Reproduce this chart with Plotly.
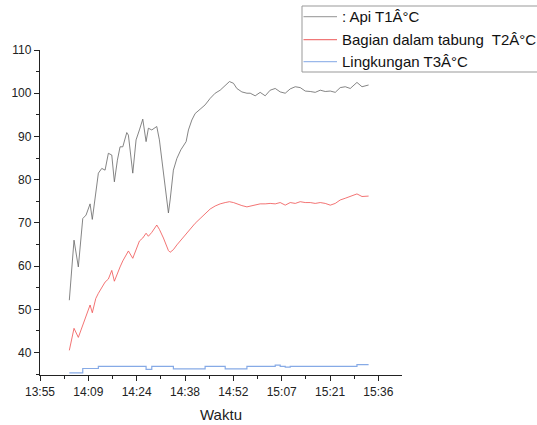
import plotly.graph_objects as go

DAY = "2024-01-01 "

times = ["14:03:56", "14:05:20", "14:06:37", "14:07:56", "14:08:55", "14:10:07", "14:10:47",
         "14:11:49", "14:12:35", "14:13:36", "14:14:35", "14:15:34", "14:16:35", "14:17:21",
         "14:18:15", "14:19:03", "14:19:52", "14:21:03", "14:21:32", "14:22:50", "14:23:49",
         "14:24:49", "14:25:49", "14:26:48", "14:27:29", "14:28:30", "14:29:59", "14:30:46",
         "14:31:58", "14:32:46", "14:33:27", "14:33:58", "14:34:56", "14:35:58", "14:37:09",
         "14:38:44", "14:39:25", "14:40:26", "14:41:25", "14:42:54", "14:44:23", "14:45:53",
         "14:47:22", "14:48:52", "14:50:22", "14:51:38", "14:52:50", "14:53:50", "14:55:20",
         "14:56:50", "14:57:49", "14:59:18", "15:00:47", "15:02:17", "15:03:46", "15:05:16",
         "15:06:45", "15:08:15", "15:09:44", "15:11:14", "15:12:43", "15:14:13", "15:15:42",
         "15:17:11", "15:18:41", "15:20:10", "15:21:40", "15:23:09", "15:24:38", "15:26:08",
         "15:27:37", "15:29:37", "15:31:07", "15:33:05"]

t1_api = [52.1, 66.0, 59.8, 71.0, 71.8, 74.4, 70.8, 77.6, 81.5, 82.6, 82.2, 86.1, 85.7, 79.5,
          84.5, 87.6, 87.6, 90.9, 90.3, 81.5, 89.2, 91.5, 94.0, 88.8, 91.9, 91.5, 92.3, 89.2,
          82.2, 77.6, 72.3, 75.3, 82.2, 84.9, 86.9, 88.8, 91.5, 93.8, 95.3, 96.3, 97.3, 98.8,
          100.0, 100.7, 101.9, 102.7, 102.3, 101.1, 100.3, 100.0,
          100.0, 99.4, 100.2, 99.4, 100.7, 101.1, 100.3, 100.0, 101.0, 101.5, 101.3, 100.5,
          100.4, 100.2, 100.7, 100.4, 100.5, 100.2, 101.3, 101.5, 101.1, 102.5, 101.5, 101.9]

t2_tabung = [40.5, 45.6, 43.5, 46.5, 48.5, 51.0, 49.2, 52.5, 53.7, 55.0, 56.3, 57.0, 59.0, 56.5,
             58.5, 59.8, 61.2, 63.0, 63.5, 61.8, 63.8, 65.8, 66.5, 67.6, 66.9, 67.8, 69.5, 68.5,
             66.5, 65.0, 63.6, 63.2, 63.8, 64.9, 66.0, 67.4, 68.2, 69.0, 69.9, 71.0, 72.2, 73.2,
             73.9, 74.4, 74.7, 74.9, 74.7, 74.4, 74.0, 73.7,
             73.9, 74.1, 74.4, 74.4, 74.5, 74.4, 74.7, 74.1, 74.7, 74.5, 74.9, 74.7,
             74.7, 74.5, 74.7, 74.5, 74.1, 74.5, 75.3, 75.7, 76.1, 76.7, 76.1, 76.2]

t3_lingkungan = [35.3, 35.3, 35.3, 36.3, 36.3, 36.3, 36.3, 36.3, 36.8, 36.8, 36.8, 36.8, 36.8, 36.8,
                 36.8, 36.8, 36.8, 36.8, 36.8, 36.8, 36.8, 36.8, 36.8, 36.1, 36.1, 36.8, 36.8, 36.8,
                 36.8, 36.8, 36.8, 36.8, 36.2, 36.2, 36.2, 36.2, 36.2, 36.2, 36.2, 36.2, 36.8, 36.8,
                 36.8, 36.8, 36.2, 36.2, 36.2, 36.2, 36.2, 36.8,
                 36.8, 36.8, 36.8, 36.8, 36.8, 37.1, 36.8, 36.6, 36.8, 36.8, 36.8, 36.8,
                 36.8, 36.8, 36.8, 36.8, 36.8, 36.8, 36.8, 36.8, 36.8, 37.2, 37.2, 37.2]

names = [": Api T1Â°C", "Bagian dalam tabung\u00a0 T2Â°C", "Lingkungan T3Â°C"]
colors = ["#666666", "#f05050", "#86aae6"]
key_colors = ["#a8a8a8", "#f07878", "#9ab8ea"]

tick_times = ["13:55:12", "14:09:36", "14:24:00", "14:38:24", "14:52:48", "15:07:12", "15:21:36", "15:36:00"]
tick_labels = ["13:55", "14:09", "14:24", "14:38", "14:52", "15:07", "15:21", "15:36"]
y_ticks = [40, 50, 60, 70, 80, 90, 100, 110]

x = [DAY + t for t in times]

fig = go.Figure()
fig.add_trace(go.Scatter(x=x, y=t1_api, mode="lines", name=names[0],
                         line=dict(color=colors[0], width=0.8)))
fig.add_trace(go.Scatter(x=x, y=t2_tabung, mode="lines", name=names[1],
                         line=dict(color=colors[1], width=0.8)))
fig.add_trace(go.Scatter(x=x, y=t3_lingkungan, mode="lines", name=names[2],
                         line=dict(color=colors[2], width=1.2, shape="hv")))

font = "Liberation Sans, Arial, sans-serif"

# legend drawn as a boxed key in paper coordinates
W, H = 537, 425
L, R, T, B = 40, 135, 50, 50
pw, ph = W - L - R, H - T - B
def px(xp): return (xp - L) / pw
def py(yp): return (H - B - yp) / ph

shapes = [dict(type="rect", xref="paper", yref="paper", x0=px(302), x1=px(545),
               y0=py(72), y1=py(6), line=dict(color="#999", width=1), fillcolor="white",
               layer="above")]
annotations = []
rows = [16.7, 39.7, 61.7]
for i, (nm, c) in enumerate(zip(names, key_colors)):
    shapes.append(dict(type="line", xref="paper", yref="paper", x0=px(303.5), x1=px(337),
                       y0=py(rows[i]), y1=py(rows[i]), line=dict(color=c, width=1.3), layer="above"))
    annotations.append(dict(text=nm, xref="paper", yref="paper", x=px(340), y=py(rows[i]),
                            xanchor="left", yanchor="middle", showarrow=False,
                            font=dict(size=15, family=font, color="#111")))

fig.update_layout(
    width=W, height=H,
    margin=dict(l=L, r=R, t=T, b=B, autoexpand=False),
    paper_bgcolor="white", plot_bgcolor="white",
    font=dict(family=font, size=12, color="#222"),
    showlegend=False,
    shapes=shapes, annotations=annotations,
)
fig.update_xaxes(
    type="date",
    range=[DAY + "13:55:12", DAY + "15:43:02"],
    tickmode="array", tickvals=[DAY + t for t in tick_times], ticktext=tick_labels,
    showline=True, linecolor="#222", linewidth=1.3, mirror=False,
    ticks="outside", ticklen=5, tickwidth=1, tickcolor="#222",
    showgrid=False, zeroline=False, automargin=False,
    minor=dict(ticks="outside", ticklen=3, tickcolor="#222", dtick=432000,
               tick0=DAY + "13:55:12", showgrid=False),
    title=dict(text="Waktu", font=dict(size=15, family=font, color="#222"), standoff=11),
    tickfont=dict(size=12),
)
fig.update_yaxes(
    range=[34.8, 110],
    tickmode="array", tickvals=y_ticks,
    showline=True, linecolor="#222", linewidth=1.3,
    ticks="outside", ticklen=5, tickwidth=1, tickcolor="#222",
    showgrid=False, zeroline=False, automargin=False,
    minor=dict(ticks="outside", ticklen=3, tickcolor="#222", dtick=5, tick0=35, showgrid=False),
    tickfont=dict(size=12),
)

fig.write_html("out.html")
